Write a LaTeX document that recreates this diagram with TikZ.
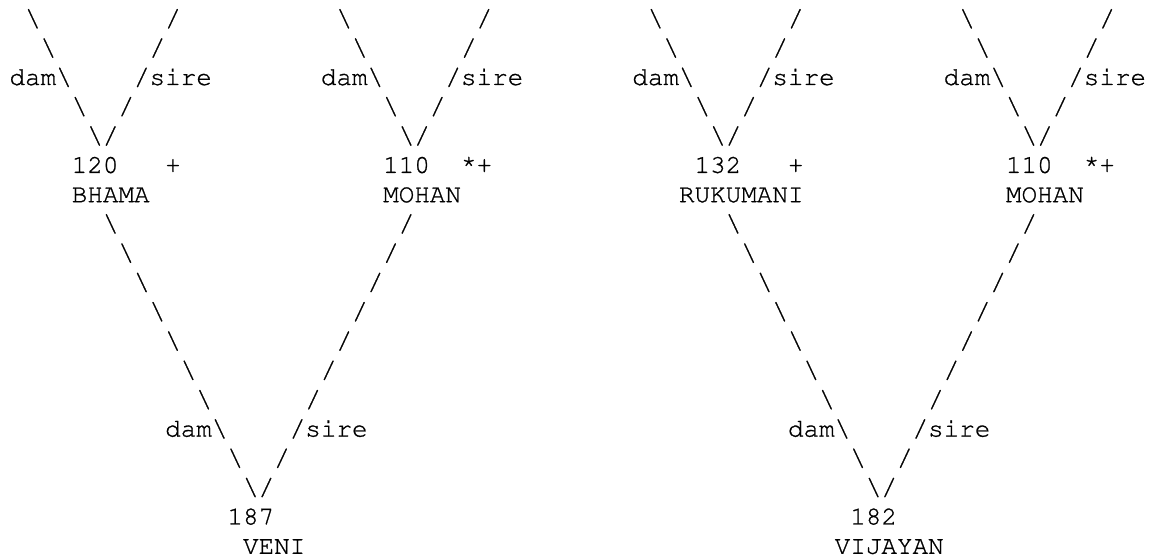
\documentclass[tikz,border=0pt]{standalone}
\usepackage[T1,TU]{fontenc}
\newcommand\thick[1]{\special{pdf:literal direct 2 Tr 0.12 w}#1\special{pdf:literal direct 0 Tr}}
\tikzset{
  asc/.style={anchor=base west, inner sep=0pt, outer sep=0pt,
    font=\fontencoding{T1}\fontfamily{pcr}\fontseries{m}\fontshape{n}\fontsize{12.97pt}{15pt}\selectfont}
}
% one token of the text picture: name, column, row, text
\newcommand\asc[4]{\node[asc] (#1) at ({9.5+(#2)*15.57},{26.4+(#3-1)*29.3}) {\thick{#4}};}
% upper fork: prefix, offset, number, marker column, marker, name column, name
\newcommand\topfork[7]{%
  \asc{#1-l1}{#2+1}{1}{\textbackslash}
  \asc{#1-r1}{#2+10}{1}{/}
  \asc{#1-l2}{#2+2}{2}{\textbackslash}
  \asc{#1-r2}{#2+9}{2}{/}
  \asc{#1-dam}{#2}{3}{dam\textbackslash}
  \asc{#1-sire}{#2+8}{3}{/sire}
  \asc{#1-l4}{#2+4}{4}{\textbackslash}
  \asc{#1-r4}{#2+7}{4}{/}
  \asc{#1-v}{#2+5}{5}{\textbackslash/}
  \asc{#1-id}{#2+4}{6}{#3}
  \asc{#1-mk}{#4}{6}{#5}
  \asc{#1-nm}{#6}{7}{#7}}
% lower fork: prefix, offset, number, name column, name
\newcommand\botfork[5]{%
  \foreach \k in {0,...,6}{%
    \asc{#1-l\k}{#2+6+\k}{8+\k}{\textbackslash}
    \asc{#1-r\k}{#2+25-\k}{8+\k}{/}}
  \asc{#1-dam}{#2+10}{15}{dam\textbackslash}
  \asc{#1-sire}{#2+18}{15}{/sire}
  \asc{#1-l16}{#2+14}{16}{\textbackslash}
  \asc{#1-r16}{#2+17}{16}{/}
  \asc{#1-v}{#2+15}{17}{\textbackslash/}
  \asc{#1-id}{#2+14}{18}{#3}
  \asc{#1-nm}{#4}{19}{#5}}
\newcommand\astplus{\raisebox{2.5pt}{*}+}
\begin{document}
\begin{tikzpicture}[x=0.5pt,y=-0.5pt]
  \useasboundingbox (0,0) rectangle (1152,560);
  \topfork{bhama}{0}{120}{10}{+}{4}{BHAMA}
  \topfork{mohanA}{20}{110}{29}{\astplus}{24}{MOHAN}
  \topfork{rukumani}{40}{132}{50}{+}{43}{RUKUMANI}
  \topfork{mohanB}{60}{110}{69}{\astplus}{64}{MOHAN}
  \botfork{veni}{0}{187}{15}{VENI}
  \botfork{vijayan}{40}{182}{53}{VIJAYAN}
\end{tikzpicture}
\end{document}
